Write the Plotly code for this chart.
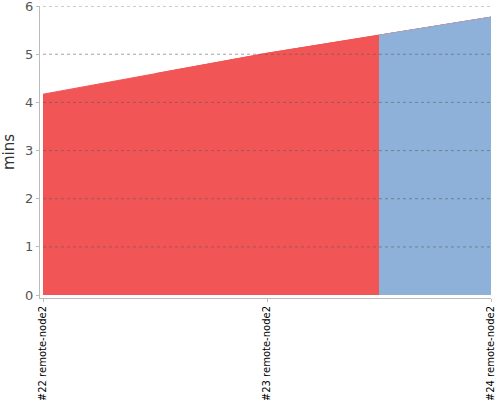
import plotly.graph_objects as go

builds = ['#22 remote-node2', '#23 remote-node2', '#24 remote-node2']
durations = [4.17, 5.02, 5.77]
status = ['failed', 'failed', 'success']
yticks = [0, 1, 2, 3, 4, 5, 6]

colors = {'failed': '#F25555', 'success': '#8EB1DA'}

idx = list(range(len(builds)))

# each build's colour starts half-way before it and runs to the end;
# later builds are painted on top so there are no seams
traces = []
for i in idx:
    xs, ys = [], []
    if i > 0:
        xs.append(i - 0.5)
        ys.append((durations[i - 1] + durations[i]) / 2)
    xs += idx[i:]
    ys += durations[i:]
    traces.append(go.Scatter(x=xs, y=ys, mode='lines', fill='tozeroy',
                             fillcolor=colors[status[i]],
                             line=dict(width=1, color=colors[status[i]]),
                             showlegend=False, hoverinfo='skip'))

grid = [dict(type='line', xref='x', yref='y', x0=idx[0], x1=idx[-1], y0=v, y1=v,
             line=dict(color='rgba(90,90,90,0.55)', width=1, dash='dot'),
             layer='above')
        for v in yticks[1:]]

layout = go.Layout(
    width=500, height=400,
    margin=dict(l=40, r=9, t=6, b=102),
    paper_bgcolor='white',
    plot_bgcolor='white',
    font=dict(family='DejaVu Sans', color='#444'),
    xaxis=dict(range=[-0.0134, 2], tickvals=idx, ticktext=builds, tickangle=-90,
               showgrid=False, zeroline=False, showline=True, linecolor='#bbb',
               ticks='outside', ticklen=3, tickcolor='#bbb', automargin=False,
               ticklabeloverflow='allow', ticklabelstandoff=0,
               tickfont=dict(size=10, color='black')),
    yaxis=dict(range=[-0.06, 6.001], tickvals=yticks, showgrid=False, zeroline=False,
               showline=True, linecolor='#bbb', ticks='outside', ticklen=3,
               tickcolor='#bbb', tickfont=dict(size=13, color='#555'), automargin=False,
               ticklabeloverflow='allow',
               title=dict(text='mins', font=dict(size=15, color='#333'), standoff=10)),
    shapes=grid,
)

fig = go.Figure(data=traces, layout=layout)
fig.write_html("out.html", config={'displayModeBar': False},
               post_script="document.body.style.margin='0';")
